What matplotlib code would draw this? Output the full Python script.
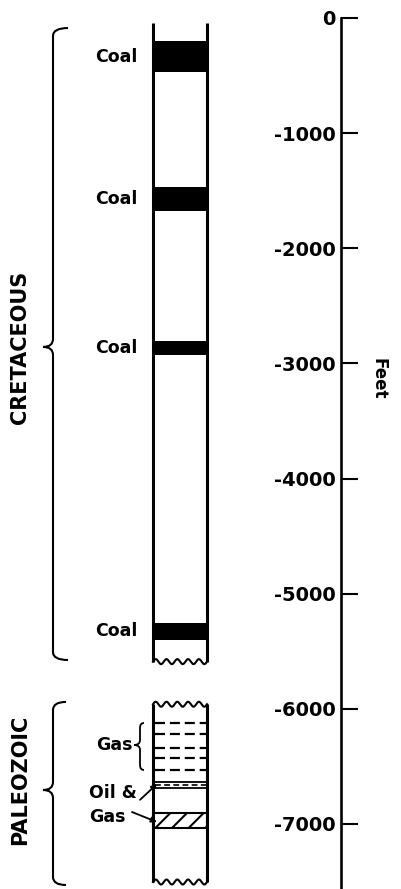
import numpy as np
import matplotlib
matplotlib.use("Agg")
import matplotlib.pyplot as plt
from matplotlib.path import Path
from matplotlib.patches import PathPatch, Rectangle

# ---- data (depths in feet) ----
coal_top = [-200, -1468, -2805, -5254]
coal_bottom = [-469, -1676, -2927, -5402]
cret_column = (-40, -5590)          # top of column, unconformity
paleo_column = (-5960, -7504)       # unconformity, bottom
gas_dash_depths = [-6123, -6219, -6341, -6427, -6531]
oil_band = (-6635, -6687)
gas_band = (-6905, -7035)
cret_brace = (-87, -2857, -5576)
paleo_brace = (-5940, -6705, -7530)
gas_brace = (-6123, -6314, -6531)
tick_values = [0, -1000, -2000, -3000, -4000, -5000, -6000, -7000]
tick_labels = ["0", "-1000", "-2000", "-3000", "-4000", "-5000", "-6000", "-7000"]
period_labels = ["CRETACEOUS", "PALEOZOIC"]
axis_label = "Feet"

plt.rcParams['font.family'] = ['DejaVu Sans']
plt.rcParams['font.weight'] = 'bold'

W, H = 402, 889
fig = plt.figure(figsize=(W / 100, H / 100), dpi=100)
ax = fig.add_axes([0, 0, 1, 1])
PX_PER_FT = 0.11514
Y0 = 18  # pixel row of 0 ft
ytop = Y0 / PX_PER_FT
ybot = -(H - Y0) / PX_PER_FT
ax.set_xlim(0, W)
ax.set_ylim(ybot, ytop)
FT = 1 / PX_PER_FT  # feet per pixel

# depth axis via the left spine
for s in ['top', 'right', 'bottom']:
    ax.spines[s].set_visible(False)
ax.spines['left'].set_position(('data', 341))
ax.spines['left'].set_linewidth(1.9)
ax.spines['left'].set_bounds(ybot, 0)
ax.set_xticks([])
ax.set_yticks(tick_values)
ax.set_yticklabels(tick_labels)
ax.tick_params(axis='y', direction='in', length=12, width=1.5, pad=4,
               labelsize=14)
for t in ax.get_yticklabels():
    t.set_fontweight('bold')
ax.patch.set_visible(False)

ax.text(379, -3130, axis_label, rotation=-90, ha='center', va='center',
        fontsize=12, fontweight='bold')

XL, XR = 153, 207
LW_COL = 2.2

# column walls
for top, bot in [cret_column, paleo_column]:
    ax.plot([XL, XL], [top, bot], color='black', lw=LW_COL, solid_capstyle='butt')
    ax.plot([XR, XR], [top, bot], color='black', lw=LW_COL, solid_capstyle='butt')

# wavy unconformity lines (decoration)
xs = np.linspace(XL, XR, 200)
wave = np.sin((xs - XL) / (XR - XL) * 2 * np.pi * 5) * 2.5 * FT
for base in [cret_column[1], paleo_column[0], paleo_column[1]]:
    ax.plot(xs, base + wave, color='black', lw=1.5)

# coal beds
for t, b in zip(coal_top, coal_bottom):
    ax.add_patch(Rectangle((XL, b), XR - XL, t - b, facecolor='black',
                           edgecolor='black', lw=0))
    ax.text(138, (t + b) / 2, "Coal", ha='right', va='center', fontsize=12.5,
            fontweight='bold')

# gas dashed lines
for d in gas_dash_depths:
    ax.plot([XL + 2, XR - 1], [d, d], color='black', lw=1.6,
            linestyle=(0, (4.5, 2.2)), dash_capstyle='butt')

# oil & gas band
ax.add_patch(Rectangle((XL, oil_band[1]), XR - XL, oil_band[0] - oil_band[1],
                       facecolor='none', edgecolor='black', lw=1.3))
mid = (oil_band[0] + oil_band[1]) / 2
ax.plot([XL + 2, XR - 1], [mid, mid], color='black', lw=1.2,
        linestyle=(0, (3.5, 2)))

# hatched gas band
plt.rcParams['hatch.linewidth'] = 1.5
ax.add_patch(Rectangle((XL, gas_band[1]), XR - XL, gas_band[0] - gas_band[1],
                       facecolor='white', edgecolor='black', lw=1.5, hatch='//'))


def brace(x, top, midy, bot, w, c, r, lw=1.5):
    verts = [
        (x + w, top), (x, top), (x, top - r * FT),
        (x, midy + r * FT), (x, midy), (x - c, midy),
        (x, midy), (x, midy - r * FT),
        (x, bot + r * FT), (x, bot), (x + w, bot),
    ]
    codes = [Path.MOVETO, Path.CURVE3, Path.CURVE3,
             Path.LINETO, Path.CURVE3, Path.CURVE3,
             Path.CURVE3, Path.CURVE3,
             Path.LINETO, Path.CURVE3, Path.CURVE3]
    ax.add_patch(PathPatch(Path(verts, codes), facecolor='none',
                           edgecolor='black', lw=lw))


brace(53, cret_brace[0], cret_brace[1], cret_brace[2], 15, 10, 8)
brace(53, paleo_brace[0], paleo_brace[1], paleo_brace[2], 13, 10, 8)
brace(140, gas_brace[0], gas_brace[1], gas_brace[2], 4, 6, 5, lw=1.3)

ax.text(20, cret_brace[1], period_labels[0], rotation=90, ha='center',
        va='center', fontsize=15, fontweight='bold')
ax.text(20, -6620, period_labels[1], rotation=90, ha='center',
        va='center', fontsize=15, fontweight='bold')

ax.text(133, gas_brace[1], "Gas", ha='right', va='center', fontsize=12.5,
        fontweight='bold')
ax.text(89, -6731, "Oil &", ha='left', va='center', fontsize=12.5,
        fontweight='bold')
ax.text(89, -6939, "Gas", ha='left', va='center', fontsize=12.5,
        fontweight='bold')
ax.annotate("", xy=(157, -6653), xytext=(140, -6790),
            arrowprops=dict(arrowstyle='-|>', color='black', lw=1.3,
                            mutation_scale=8, shrinkA=0, shrinkB=0))
ax.annotate("", xy=(157, -6983), xytext=(132, -6896),
            arrowprops=dict(arrowstyle='-|>', color='black', lw=1.3,
                            mutation_scale=8, shrinkA=0, shrinkB=0))

fig.savefig("out.png", dpi=100)
